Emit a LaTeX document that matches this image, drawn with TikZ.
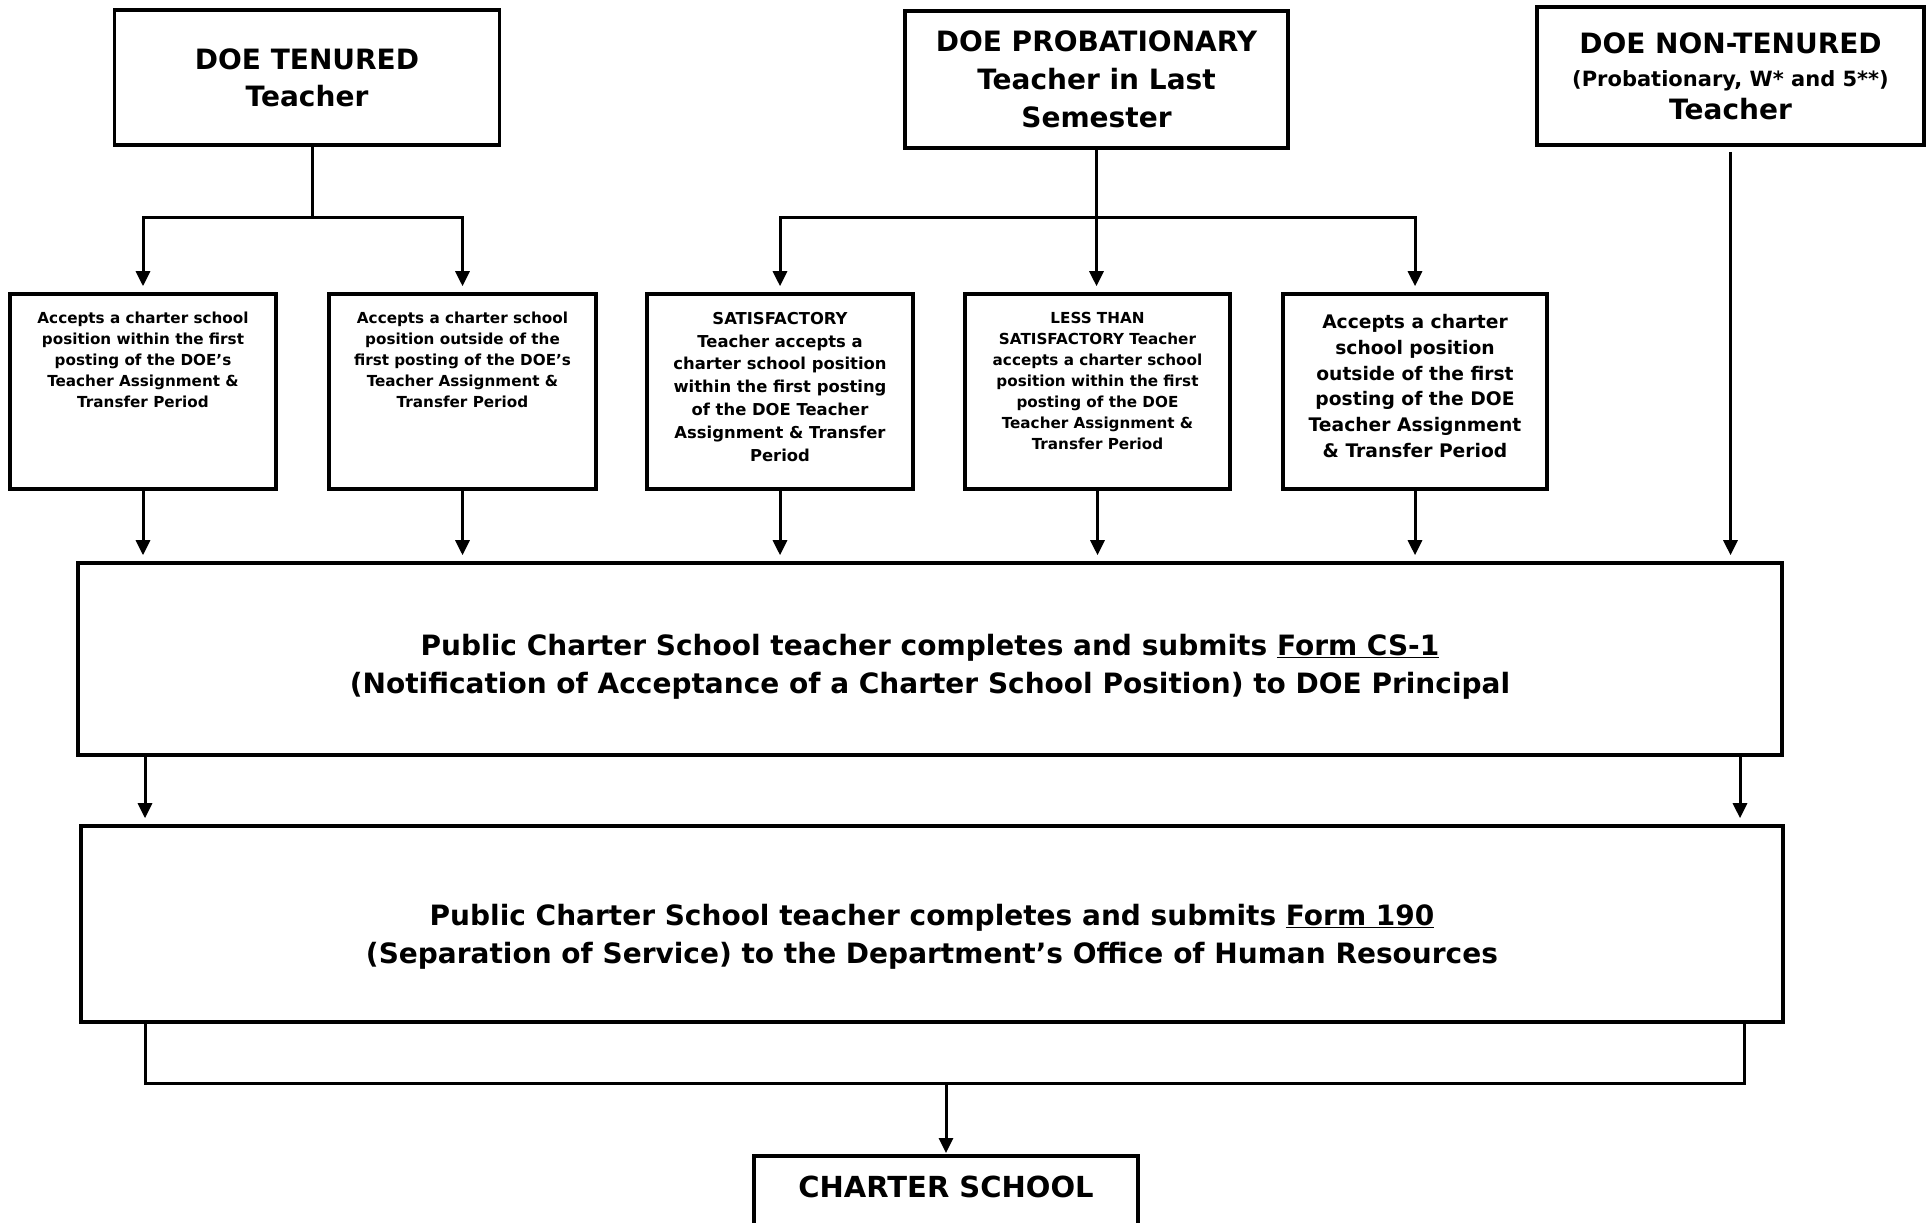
\documentclass[tikz,border=0pt]{standalone}
\usepackage{fontspec}
\setmainfont{DejaVu Sans}
\usetikzlibrary{arrows.meta}
\begin{document}
\begin{tikzpicture}[x=1pt,y=-1pt,
  boxline/.style={draw, line width=3.6pt, inner sep=0pt},
  topbox/.style={boxline, align=center, font=\bfseries\fontsize{28}{37}\selectfont},
  txt/.style={anchor=base, inner sep=0pt, font=\bfseries},
  conn/.style={line width=3pt},
  arr/.style={conn, -{Triangle[length=15pt,width=14pt]}, shorten >=6pt},
]
\fill[white] (0,0) rectangle (1931,1223);
\useasboundingbox (0,0) rectangle (1931,1223);

% top boxes
\node[topbox, minimum width=385pt, minimum height=135pt] (A) at (307,77.5) {DOE TENURED\\Teacher};
\node[topbox, minimum width=383pt, minimum height=137pt, font=\bfseries\fontsize{28}{38}\selectfont] (B) at (1096.5,79.5) {DOE PROBATIONARY\\Teacher in Last\\Semester};
\node[topbox, minimum width=387pt, minimum height=138pt, font=\bfseries\fontsize{28}{33}\selectfont] (C) at (1730.5,76) {DOE NON-TENURED\\{\fontsize{21}{33}\selectfont (Probationary, W* and 5**)}\\Teacher};

% small boxes
\node[boxline, minimum width=266pt, minimum height=195pt] (s1) at (143,391.5) {};
\node[boxline, minimum width=267pt, minimum height=195pt] (s2) at (462.5,391.5) {};
\node[boxline, minimum width=266pt, minimum height=195pt] (s3) at (780,391.5) {};
\node[boxline, minimum width=265pt, minimum height=195pt] (s4) at (1097.5,391.5) {};
\node[boxline, minimum width=264pt, minimum height=195pt] (s5) at (1415,391.5) {};

\node[txt] (t1) at ([yshift=-31pt]s1.north) {\parbox[t]{262pt}{\centering\fontsize{15.2}{21}\selectfont Accepts a charter school\\position within the first\\posting of the DOE’s\\Teacher Assignment \&\\Transfer Period}};
\node[txt] (t2) at ([yshift=-31pt]s2.north) {\parbox[t]{262pt}{\centering\fontsize{15.2}{21}\selectfont Accepts a charter school\\position outside of the\\first posting of the DOE’s\\Teacher Assignment \&\\Transfer Period}};
\node[txt] (t3) at ([yshift=-32pt]s3.north) {\parbox[t]{262pt}{\centering\fontsize{16.4}{22.8}\selectfont SATISFACTORY\\Teacher accepts a\\charter school position\\within the first posting\\of the DOE Teacher\\Assignment \& Transfer\\Period}};
\node[txt] (t4) at ([yshift=-31pt]s4.north) {\parbox[t]{262pt}{\centering\fontsize{15.2}{21}\selectfont LESS THAN\\SATISFACTORY Teacher\\accepts a charter school\\position within the first\\posting of the DOE\\Teacher Assignment \&\\Transfer Period}};
\node[txt] (t5) at ([yshift=-36pt]s5.north) {\parbox[t]{262pt}{\centering\fontsize{18.7}{25.9}\selectfont Accepts a charter\\school position\\outside of the first\\posting of the DOE\\Teacher Assignment\\\& Transfer Period}};

% big boxes
\node[boxline, minimum width=1704pt, minimum height=192pt] (b1) at (930,659) {};
\node[boxline, minimum width=1702pt, minimum height=196pt] (b2) at (932,924) {};
\node[txt] (t6) at ([yshift=-94pt]b1.north) {\parbox[t]{1650pt}{\centering\fontsize{28}{38.5}\selectfont Public Charter School teacher completes and submits \underline{Form CS-1}\\(Notification of Acceptance of a Charter School Position) to DOE Principal}};
\node[txt] (t7) at ([yshift=-101pt]b2.north) {\parbox[t]{1650pt}{\centering\fontsize{28}{38.5}\selectfont Public Charter School teacher completes and submits \underline{Form 190}\\(Separation of Service) to the Department’s Office of Human Resources}};

% charter school
\node[boxline, anchor=north, minimum width=384pt, inner ysep=21pt, text height=21pt, text depth=60pt, font=\bfseries\fontsize{29}{35}\selectfont] (cs) at (946,1154) {CHARTER SCHOOL};

% connectors
\coordinate (jA) at (312,217);
\coordinate (jB) at (B.south |- 0,217);
\draw[conn] (A.south -| jA) -- (jA);
\draw[arr] (jA) -| (s1.north);
\draw[arr] (jA) -| (s2.north);
\draw[conn] (B.south) -- (jB);
\draw[arr] (jB) -| (s3.north);
\draw[arr] (jB) -| (s5.north);
\draw[arr] (B.south) -- (B.south |- s4.north);
\draw[arr, shorten <=5pt] (C.south) -- (C.south |- b1.north);

\foreach \s in {s1,s2,s3,s4,s5}
  \draw[arr] (\s.south) -- (\s.south |- b1.north);

\coordinate (L) at (145,0);
\coordinate (R) at (1740,0);
\draw[arr] (b1.south -| L) -- (b2.north -| L);
\draw[arr] (b1.south -| R) -- (b2.north -| R);

\coordinate (BL) at (145,1083);
\coordinate (BR) at (1744,1083);
\draw[conn] (b2.south -| BL) -- (BL) -- (BR) -- (b2.south -| BR);
\draw[arr, shorten >=1pt] (cs.north |- BL) -- (cs.north);
\end{tikzpicture}
\end{document}
